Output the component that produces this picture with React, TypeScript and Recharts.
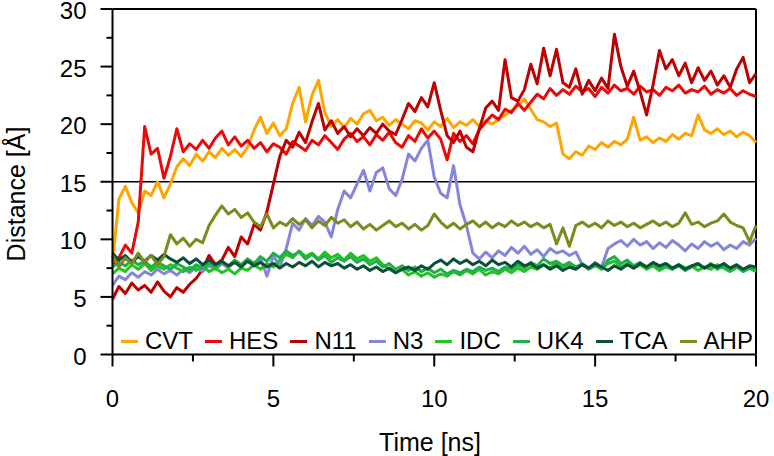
import React from 'react';
import { Legend, Line, LineChart, ReferenceLine, XAxis, YAxis } from 'recharts';

const TIME = [
    0, 0.2, 0.4, 0.6, 0.8, 1, 1.2, 1.4, 1.6, 1.8,
    2, 2.2, 2.4, 2.6, 2.8, 3, 3.2, 3.4, 3.6, 3.8,
    4, 4.2, 4.4, 4.6, 4.8, 5, 5.2, 5.4, 5.6, 5.8,
    6, 6.2, 6.4, 6.6, 6.8, 7, 7.2, 7.4, 7.6, 7.8,
    8, 8.2, 8.4, 8.6, 8.8, 9, 9.2, 9.4, 9.6, 9.8,
    10, 10.2, 10.4, 10.6, 10.8, 11, 11.2, 11.4, 11.6, 11.8,
    12, 12.2, 12.4, 12.6, 12.8, 13, 13.2, 13.4, 13.6, 13.8,
    14, 14.2, 14.4, 14.6, 14.8, 15, 15.2, 15.4, 15.6, 15.8,
    16, 16.2, 16.4, 16.6, 16.8, 17, 17.2, 17.4, 17.6, 17.8,
    18, 18.2, 18.4, 18.6, 18.8, 19, 19.2, 19.4, 19.6, 19.8,
    20,
];

const CVT = [
    8.0, 13.5, 14.6, 13.2, 12.3, 14.2, 13.8, 15.0, 13.6, 14.8,
    16.3, 17.0, 16.4, 17.4, 16.8, 17.6, 17.1, 17.9, 17.3, 17.8,
    17.2, 18.0, 19.5, 20.6, 19.2, 20.1, 19.0, 19.6, 21.8, 23.2,
    20.2, 22.5, 23.8, 21.0, 19.8, 20.4, 19.7, 20.5, 20.0, 20.9,
    21.2, 20.3, 20.6, 19.9, 20.4, 20.0, 19.6, 20.3, 20.1, 19.5,
    20.2, 19.8, 20.5, 19.7, 20.2, 19.9, 20.4, 19.8, 20.3, 20.0,
    20.4, 20.8, 21.2, 21.6, 22.2, 21.3, 20.4, 20.2, 19.8, 20.1,
    17.4, 17.0, 17.6, 17.3, 18.1, 17.8, 18.4, 18.0, 18.5, 18.2,
    18.7, 20.6, 18.6, 18.9, 18.4, 18.8, 18.5, 19.1, 18.7, 19.2,
    19.0, 20.8, 19.5, 19.2, 19.6, 19.1, 19.4, 18.9, 19.3, 19.0,
    18.4,
];

const HES = [
    7.6, 8.4, 9.5, 8.8, 11.5, 19.8, 17.4, 17.9, 15.3, 17.2,
    19.6, 17.6, 18.3, 17.8, 18.6, 17.9, 18.8, 19.4, 18.2, 18.9,
    18.1, 18.6, 17.9, 18.4, 17.6, 18.3, 18.0, 17.4, 18.5, 18.1,
    17.7, 18.6, 18.2, 19.0, 18.4, 17.8, 18.7, 19.2, 18.5, 18.9,
    18.2, 19.1, 18.6, 19.3, 18.4, 18.0, 19.0, 18.5, 19.6, 18.8,
    19.4, 18.7, 16.9, 19.2, 18.5, 19.0, 18.3, 19.5, 20.2, 20.8,
    20.4, 21.3, 21.0, 21.8, 21.2, 21.9, 22.6, 22.2, 23.1, 22.5,
    23.0, 22.6, 23.3, 22.8, 23.1, 22.4, 23.2, 22.7, 23.4, 22.9,
    23.1, 22.6, 23.3, 22.8, 23.0, 22.5, 23.2, 22.9, 23.4, 22.7,
    23.0, 22.8, 23.3, 22.6, 23.0, 22.7, 23.1, 22.5, 22.9, 22.6,
    22.4,
];

const N11 = [
    4.8, 5.9, 5.3, 6.2, 5.6, 6.0, 5.4, 6.3, 5.5, 5.0,
    5.8, 5.4, 6.1, 6.6, 7.4, 8.6, 7.8, 8.2, 9.3, 8.5,
    10.2, 9.6, 11.3, 10.8, 12.4, 14.8, 17.2, 18.6, 18.0, 19.3,
    18.4, 20.2, 21.8, 19.5, 20.3, 19.2, 19.8, 18.9, 19.6, 19.0,
    19.7, 19.2, 20.0, 19.4, 19.1, 20.4, 21.8, 21.1, 22.3, 21.5,
    23.6, 21.2, 19.0, 18.4, 19.4, 18.0, 17.6, 19.6, 21.4, 22.0,
    21.2, 25.6, 22.3, 22.0, 23.0, 25.2, 23.5, 26.6, 24.2, 26.5,
    23.6, 23.2, 24.8, 22.6, 23.8, 22.9, 24.0, 23.1, 27.8, 25.0,
    23.3, 24.6, 22.8, 20.8, 23.4, 26.4, 24.8, 25.6, 24.2, 25.3,
    23.6, 24.9, 23.8, 24.6, 23.4, 24.2, 23.2, 24.8, 25.8, 23.6,
    24.4,
];

const N3 = [
    6.0, 6.8, 6.5, 7.1, 6.7, 7.2, 6.9, 7.4, 7.0, 7.3,
    6.9, 7.4, 7.1, 7.6, 7.2, 7.7, 7.4, 7.9, 7.5, 8.1,
    7.6, 8.2, 7.7, 8.4, 6.8, 8.6, 7.6, 9.2, 11.4, 10.8,
    11.8, 11.2, 12.0, 11.5, 10.2, 12.6, 14.2, 13.6, 14.8, 16.0,
    14.2, 15.8, 16.2, 14.4, 13.8, 15.2, 17.4, 16.8, 17.9, 18.6,
    15.4, 14.0, 13.6, 16.4, 13.0, 11.2, 8.8, 8.3, 8.9, 8.4,
    9.0, 8.6, 9.3, 8.8, 9.4, 8.7, 9.1, 8.5, 9.2, 8.8,
    9.0, 8.6, 8.9, 7.8, 7.5, 8.0, 7.6, 9.2, 9.6, 9.9,
    9.4, 10.0, 9.5, 9.8, 9.2, 9.7, 9.3, 9.9, 9.5, 9.0,
    9.6, 9.2, 9.8, 9.4, 9.7, 9.1, 9.5, 9.2, 9.8, 9.5,
    10.1,
];

const IDC = [
    7.0, 7.5, 7.2, 7.8, 7.4, 7.9, 7.3, 7.7, 7.4, 7.8,
    7.5, 7.2, 7.6, 7.3, 7.7, 7.2, 7.5, 7.1, 7.4, 7.0,
    7.5, 7.3, 7.8, 7.4, 7.9, 7.6, 8.2, 8.7, 8.4, 9.0,
    8.5, 8.8, 8.3, 8.9, 8.4, 8.7, 8.2, 8.8, 8.3, 8.6,
    8.1, 8.4, 7.8, 7.4, 7.1, 7.4, 6.9, 7.2, 6.8, 7.1,
    6.7, 7.0, 6.8, 7.2, 6.9, 7.3, 7.0, 7.4, 6.9, 7.2,
    7.0, 7.4, 7.1, 7.5, 7.2, 7.6, 7.4, 7.8, 7.5, 8.0,
    7.6, 7.9, 7.5, 7.8, 7.4, 7.7, 7.5, 7.9, 8.1, 7.6,
    7.9, 7.5, 7.8, 7.4, 7.7, 7.3, 7.6, 7.4, 7.8, 7.5,
    7.7, 7.3, 7.6, 7.4, 7.8, 7.5, 7.2, 7.6, 7.3, 7.5,
    7.2,
];

const UK4 = [
    7.6, 8.0, 7.7, 8.2, 7.8, 8.1, 7.6, 8.0, 7.7, 7.4,
    7.9, 7.6, 7.3, 7.8, 7.5, 7.9, 7.6, 8.0, 7.7, 8.2,
    7.8, 8.3, 7.9, 8.5, 8.1, 8.8, 8.4, 9.0, 8.6, 8.9,
    8.3, 8.7, 8.2, 8.6, 8.0, 8.4, 8.1, 8.5, 8.0, 8.3,
    7.8, 8.1, 7.6, 7.9, 7.4, 7.7, 7.3, 7.6, 7.2, 7.5,
    7.1, 7.4, 7.0, 7.3, 7.1, 7.4, 7.2, 7.6, 7.3, 7.5,
    7.2, 7.6, 7.4, 7.8, 7.5, 8.0, 7.7, 8.3, 7.9, 8.1,
    7.7, 8.0, 7.6, 7.9, 7.5, 7.8, 7.4, 8.2, 8.5, 7.9,
    8.2, 7.7, 8.0, 7.6, 7.9, 7.5, 7.8, 7.4, 7.7, 7.3,
    7.6, 7.8, 7.5, 7.9, 7.4, 7.7, 7.3, 7.6, 7.2, 7.5,
    7.4,
];

const TCA = [
    8.8, 8.2, 8.6, 8.0, 8.5, 8.1, 8.6, 8.2, 8.7, 8.3,
    8.0, 8.4, 7.9, 8.3, 7.8, 8.2, 7.8, 8.1, 7.7, 8.0,
    7.6, 8.1, 7.7, 8.0, 7.6, 7.9, 7.5, 7.9, 7.6, 8.0,
    7.7, 8.1, 7.6, 8.0, 7.7, 7.9, 7.5, 7.8, 7.4, 7.7,
    7.3, 7.6, 7.2, 7.5, 7.1, 7.4, 7.6, 7.3, 7.7, 7.4,
    7.9, 8.2, 7.8, 8.3, 7.9, 8.2, 7.8, 8.1, 7.7, 8.2,
    7.8, 8.0, 7.6, 8.1, 7.7, 7.9, 7.5, 7.8, 7.4, 7.7,
    7.3, 7.6, 7.4, 7.8, 7.5, 7.9, 7.6, 7.3, 7.7, 7.4,
    7.8, 7.5, 7.9, 7.6, 8.0, 7.7, 7.9, 7.5, 7.8, 7.4,
    7.7, 7.9, 7.5, 7.8, 7.6, 7.9, 7.5, 7.8, 7.4, 7.7,
    7.6,
];

const AHP = [
    8.6, 7.6, 8.4, 7.9, 8.8, 8.0, 8.6, 7.8, 8.5, 10.4,
    9.6, 10.1, 9.4, 10.0, 9.7, 11.2, 12.1, 12.9, 12.2, 12.6,
    11.9, 12.3, 11.5, 11.1, 12.2, 11.0, 11.5, 11.2, 11.8, 11.3,
    11.7, 11.0, 11.6, 11.2, 11.9, 11.4, 11.7, 11.1, 11.5, 10.9,
    11.3, 10.8, 11.2, 11.6, 11.1, 11.4, 10.9, 11.3, 10.8, 11.2,
    12.2, 11.5, 11.0, 11.4, 10.9, 11.3, 11.6, 11.1, 11.5, 11.0,
    11.4, 11.1, 11.6, 11.2, 11.5, 11.1, 11.4, 11.0, 11.3, 9.6,
    11.0, 9.4, 11.2, 11.5, 11.1, 11.4, 11.0, 11.6, 11.2, 11.5,
    11.1, 11.4, 11.0, 11.3, 11.6, 11.2, 11.5, 11.1, 11.4, 12.3,
    11.3, 11.5, 11.1, 11.4, 11.6, 12.2, 11.5, 11.2, 11.0, 9.8,
    11.2,
];

const X_TICKS = [0, 2.5, 5, 7.5, 10, 12.5, 15, 17.5, 20];
const Y_TICKS = [0, 2.5, 5, 7.5, 10, 12.5, 15, 17.5, 20, 22.5, 25, 27.5, 30];
const THRESHOLD = 15;

const SERIES = [
    { key: 'CVT', values: CVT, color: '#ffa500' },
    { key: 'HES', values: HES, color: '#ea0a0a' },
    { key: 'N11', values: N11, color: '#bd0000' },
    { key: 'N3', values: N3, color: '#8585db' },
    { key: 'IDC', values: IDC, color: '#22c422' },
    { key: 'UK4', values: UK4, color: '#1fb04a' },
    { key: 'TCA', values: TCA, color: '#0b4f3a' },
    { key: 'AHP', values: AHP, color: '#7b8b1e' },
];

const data = TIME.map((t, i) => {
    const row: Record<string, number> = { t };
    SERIES.forEach((s) => {
        row[s.key] = s.values[i];
    });
    return row;
});

const FONT = '"Liberation Sans", Arial, sans-serif';

const XTick = ({ x, y, payload }: any) => {
    const major = payload.value % 5 === 0;
    return (
        <g>
            <line x1={x} y1={y} x2={x} y2={y + (major ? 12 : 7)} stroke="#000" strokeWidth={2} />
            {major && (
                <text x={x} y={y + 52} textAnchor="middle" fontSize={24} fontFamily={FONT} fill="#000">
                    {payload.value}
                </text>
            )}
        </g>
    );
};

const YTick = ({ x, y, payload }: any) => {
    const major = payload.value % 5 === 0;
    return (
        <g>
            <line x1={x} y1={y} x2={x - (major ? 12 : 6)} y2={y} stroke="#000" strokeWidth={2} />
            {major && (
                <text x={x - 26} y={y + 10} textAnchor="end" fontSize={24} fontFamily={FONT} fill="#000">
                    {payload.value}
                </text>
            )}
        </g>
    );
};

const XTitle = () => (
    <text x={430} y={451} textAnchor="middle" fontSize={25} fontFamily={FONT} fill="#000">
        Time [ns]
    </text>
);

const YTitle = () => (
    <text x={25} y={194} transform="rotate(-90, 25, 194)" textAnchor="middle" fontSize={25} fontFamily={FONT} fill="#000">
        Distance [Å]
    </text>
);

const renderLegend = () => (
    <div
        style={{
            display: 'flex',
            justifyContent: 'space-between',
            alignItems: 'center',
            fontFamily: FONT,
            fontSize: 24,
            lineHeight: '28px',
            color: '#000',
        }}
    >
        {SERIES.map((s) => (
            <div key={s.key} style={{ display: 'flex', alignItems: 'center' }}>
                <span style={{ display: 'inline-block', width: 17, height: 3, background: s.color, marginRight: 7 }} />
                <span>{s.key}</span>
            </div>
        ))}
    </div>
);

export default function App() {
    return (
        <div style={{ position: 'absolute', left: 0, top: 0, width: 774, height: 456, background: '#fff' }}>
            <LineChart width={774} height={456} data={data} margin={{ top: 9, right: 18, bottom: 0, left: 0 }}>
                <XAxis
                    dataKey="t"
                    type="number"
                    domain={[0, 20]}
                    ticks={X_TICKS}
                    interval={0}
                    tickLine={false}
                    tickSize={0}
                    tickMargin={0}
                    tick={<XTick />}
                    axisLine={{ stroke: '#000', strokeWidth: 2 }}
                    height={101.5}
                    label={<XTitle />}
                />
                <YAxis
                    type="number"
                    domain={[0, 30]}
                    ticks={Y_TICKS}
                    interval={0}
                    tickLine={false}
                    tickSize={0}
                    tickMargin={0}
                    tick={<YTick />}
                    axisLine={{ stroke: '#000', strokeWidth: 2 }}
                    width={112.5}
                    label={<YTitle />}
                />
                <ReferenceLine y={30} stroke="#000" strokeWidth={2} />
                <ReferenceLine x={20} stroke="#000" strokeWidth={2} />
                <ReferenceLine y={THRESHOLD} stroke="#000" strokeWidth={1.5} />
                {SERIES.map((s) => (
                    <Line
                        key={s.key}
                        type="linear"
                        dataKey={s.key}
                        stroke={s.color}
                        strokeWidth={3}
                        strokeLinejoin="round"
                        dot={false}
                        activeDot={false}
                        isAnimationActive={false}
                    />
                ))}
                <Legend
                    layout="vertical"
                    align="center"
                    verticalAlign="middle"
                    content={renderLegend}
                    wrapperStyle={{ position: 'absolute', left: 121, top: 327, width: 632, height: 28 }}
                />
            </LineChart>
        </div>
    );
}
